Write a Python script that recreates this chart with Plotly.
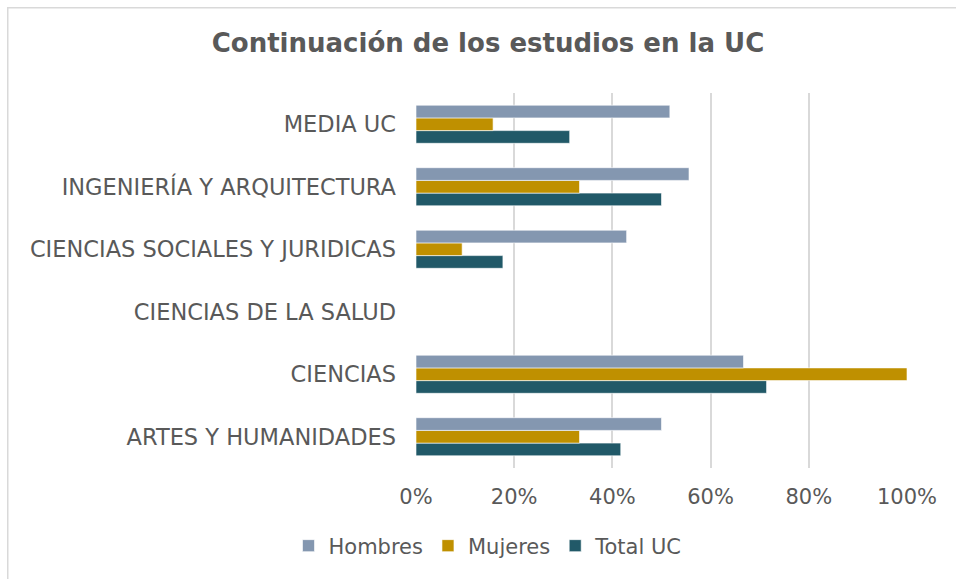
import plotly.graph_objects as go

categories = ["ARTES Y HUMANIDADES", "CIENCIAS", "CIENCIAS DE LA SALUD",
              "CIENCIAS SOCIALES Y JURIDICAS", "INGENIERÍA Y ARQUITECTURA", "MEDIA UC"]
hombres = [0.50, 0.667, None, 0.429, 0.556, 0.517]
mujeres = [0.333, 1.00, None, 0.094, 0.333, 0.157]
total_uc = [0.417, 0.714, None, 0.177, 0.50, 0.313]
x_ticks = [0, 0.2, 0.4, 0.6, 0.8, 1.0]
x_tick_labels = ["0%", "20%", "40%", "60%", "80%", "100%"]

FONT = "DejaVu Sans"
GRAY = "#595959"

W, H = 956, 579
ML, MR, MT, MB = 416, 49, 93, 111
PW, PH = W - ML - MR, H - MT - MB

fig = go.Figure()
for name, vals, col in [("Total UC", total_uc, "#215968"),
                        ("Mujeres", mujeres, "#bf9000"),
                        ("Hombres", hombres, "#8497b0")]:
    fig.add_trace(go.Bar(y=categories, x=vals, name=name, orientation="h",
                         marker=dict(color=col, line=dict(color="#ffffff", width=0.6))))

def sx(px):  # screen x -> paper
    return (px - ML) / PW

def sy(py):  # screen y -> paper
    return (H - MB - py) / PH

fig.add_shape(type="rect", xref="paper", yref="paper",
              x0=sx(7.75), x1=sx(1000),
              y0=sy(1000), y1=sy(7.75),
              line=dict(color="#d9d9d9", width=1.5), fillcolor="rgba(0,0,0,0)", layer="below")

fig.update_layout(
    width=W, height=H,
    margin=dict(l=ML, r=MR, t=MT, b=MB),
    paper_bgcolor="white", plot_bgcolor="white",
    barmode="group", bargap=0.39, bargroupgap=0,
    title=dict(text="<b>Continuación de los estudios en la UC</b>",
               font=dict(family=FONT, size=26, color=GRAY),
               x=sx(488), xref="paper", xanchor="center",
               y=1 - 43 / H, yanchor="middle"),
    font=dict(family=FONT, color=GRAY, size=21),
    xaxis=dict(range=[0, 1.0], tickvals=x_ticks, ticktext=x_tick_labels,
               showgrid=True, gridcolor="#d9d9d9", gridwidth=2,
               zeroline=False, showline=False, ticks="",
               tickfont=dict(family=FONT, size=21, color=GRAY), ticklabelstandoff=14),
    yaxis=dict(showgrid=False, zeroline=False, showline=False, ticks="",
               categoryorder="array", categoryarray=categories,
               tickfont=dict(family=FONT, size=22.5, color=GRAY), ticklabelstandoff=19),
    legend=dict(orientation="h", traceorder="reversed",
                x=sx(488), xanchor="center",
                y=sy(546), yanchor="middle",
                font=dict(family=FONT, size=21, color=GRAY),
                itemwidth=30),
    showlegend=True,
)

fig.write_html("out.html", config={"displayModeBar": False},
               post_script="document.body.style.margin='0';document.body.style.overflow='hidden';")
